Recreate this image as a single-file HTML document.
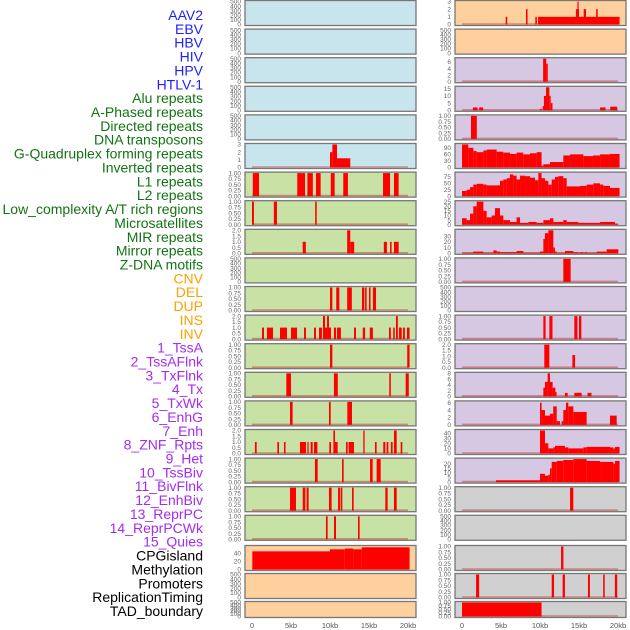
<!DOCTYPE html>
<html><head><meta charset="utf-8"><style>
html,body{margin:0;padding:0;background:#fff;}
svg{display:block;font-family:"Liberation Sans",sans-serif;}
</style></head><body>
<svg id="chart" width="630" height="630" viewBox="0 0 630 630" xmlns="http://www.w3.org/2000/svg"></svg>
<script>
// ---- labels ----
const labelTexts = ["AAV2","EBV","HBV","HIV","HPV","HTLV-1","Alu repeats","A-Phased repeats","Directed repeats","DNA transposons","G-Quadruplex forming repeats","Inverted repeats","L1 repeats","L2 repeats","Low_complexity A/T rich regions","Microsatellites","MIR repeats","Mirror repeats","Z-DNA motifs","CNV","DEL","DUP","INS","INV","1_TssA","2_TssAFlnk","3_TxFlnk","4_Tx","5_TxWk","6_EnhG","7_Enh","8_ZNF_Rpts","9_Het","10_TssBiv","11_BivFlnk","12_EnhBiv","13_ReprPC","14_ReprPCWk","15_Quies","CPGisland","Methylation","Promoters","ReplicationTiming","TAD_boundary"];
const labelGroupSizes = [6,13,5,15,5];
const labelColors = ["#1f1fff","#137313","#ffa000","#a32cf0","#000000"];
const xTicks = [0,5,10,15,20];
const xTickLabels = ["0","5kb","10kb","15kb","20kb"];

// ---- bar data: [startKb, endKb, value] ----
const L6 = [[10.0,10.3,2],[10.3,10.9,3],[10.9,12.6,1.2]];
const L7 = [[0.1,0.9,1],[5.8,6.8,1],[7.1,7.8,1],[8.2,8.8,1],[10.1,10.6,1],[11.7,12.3,1],[16.8,17.7,1],[18.2,18.8,1]];
const L8 = [[0,0.25,1],[2.8,3.2,1],[8.1,8.3,1]];
const L9 = [[6.5,6.9,1],[12.2,12.6,2],[12.6,13.1,1],[16.9,17.3,1],[17.7,17.9,1],[18.2,18.8,1]];
const L11 = [[10.0,10.3,1],[10.8,11.2,1],[12.2,12.8,1],[14.1,14.4,1],[14.5,14.7,1],[15.0,15.2,1],[15.5,15.9,1]];
const L12 = [[1.28,1.54,1],[1.92,2.69,1],[3.59,4.49,1],[5.0,5.77,1],[6.67,6.92,1],[7.95,8.2,1],[8.59,8.97,1],[9.1,9.36,2],[9.36,9.62,1],[9.62,9.87,2],[9.87,10.13,1],[10.5,10.77,1],[10.9,11.4,1],[13.08,13.33,1],[14.2,14.5,1],[15.1,15.5,1],[17.56,17.8,1],[18.1,18.3,1],[18.46,18.7,2],[18.85,19.2,1],[19.36,19.6,1],[19.87,20.2,1]];
const L13 = [[10.0,10.3,1],[19.9,20.2,1]];
const L14 = [[4.4,5.0,1],[10.5,11.0,1],[17.6,17.8,1],[19.7,20.1,1]];
const L15 = [[4.87,5.21,1],[9.87,10.09,1],[12.22,12.82,1]];
const L16 = [[0.38,0.6,1],[3.25,3.46,1],[4.1,4.3,1],[6.15,6.92,1],[7.1,7.26,1],[7.52,7.78,1],[7.95,8.38,1],[9.91,10.13,1],[10.43,10.64,2],[10.64,10.98,1],[12.05,12.26,1],[12.39,13.08,1],[14.27,14.44,2],[15.77,15.98,1],[16.83,17.09,1],[17.26,17.48,1],[17.8,18.03,1],[18.2,18.55,2],[19.06,19.27,1]];
const L17 = [[8.07,8.42,1],[11.54,11.75,1],[15.13,15.47,1],[15.98,16.5,1]];
const L18 = [[4.87,5.64,1],[6.5,6.84,1],[7.0,7.26,1],[9.87,10.21,1],[11.03,11.28,1],[11.37,11.58,1],[12.82,13.03,1],[17.09,17.39,1],[18.2,18.55,1]];
const L19 = [[9.48,9.7,1],[10.51,10.77,1],[13.59,13.8,1]];
const L20 = [[0.04,10.0,45],[10.0,11.9,50],[11.9,13.0,52],[13.0,14.06,50],[14.06,20.2,55]];
const R1 = [[5.6,5.8,1],[8.2,8.4,2],[9.4,9.6,1],[9.75,20.2,1],[14.6,15.0,2],[14.8,14.9,3],[15.6,15.9,2],[17.2,17.4,2]];
const R3 = [[10.4,10.8,7],[10.8,11.0,5.5]];
const R4 = [[1.4,2.0,2],[2.2,2.7,2],[10.0,10.2,1],[10.35,10.5,3],[10.5,10.77,10],[10.77,11.2,16],[11.2,11.37,10],[11.37,11.6,5],[17.7,18.4,2],[19.0,19.9,2.5]];
const R5 = [[1.15,1.9,1]];
const R10 = [[12.99,13.93,1]];
const R12 = [[10.43,10.72,1],[11.2,11.6,1],[14.4,14.8,1],[15.0,15.3,1]];
const R13 = [[10.55,11.2,2],[14.15,14.5,1.1]];
const R14 = [[10.43,10.64,3],[10.64,10.98,5],[10.98,11.28,8],[11.28,11.62,5],[11.62,11.97,3],[11.97,12.05,1.5],[13.2,13.55,1.2],[14.4,15.34,1.2],[16.1,16.6,1.2]];
const R15 = [[10.0,10.2,6],[10.2,10.64,4],[10.64,11.28,2.5],[11.28,11.7,3],[11.7,12.14,5],[12.14,12.56,1],[12.78,12.99,1],[12.99,13.33,4],[13.33,13.63,6],[13.63,14.27,5],[14.27,15.98,3.5],[18.97,19.83,2.5]];
const R18 = [[13.85,14.27,1]];
const R20 = [[12.7,13.0,1]];
const R21 = [[1.8,2.2,1],[11.5,11.8,1],[12.9,13.2,1],[16.15,16.4,1],[18.1,18.3,1],[19.6,19.9,1]];
const R22 = [[0,10.2,1]];

// ---- step profiles: edges (kb) and values ----
const R6edges = [0,0.81,1.45,1.88,2.74,3.16,4.44,5.3,6.15,7.0,7.86,8.72,9.57,10.2,10.43,11.28,12.99,13.85,15.56,16.8,17.7,18.97,20.2];
const R6vals = [105,90,75,70,78,82,72,68,62,68,60,65,70,8,15,25,55,60,52,55,60,62];
const R7edges = [0,0.6,1.03,1.45,1.88,2.74,3.16,4.87,5.3,5.73,6.15,6.58,7.0,7.44,8.08,8.72,9.36,9.79,10.2,10.64,11.07,11.5,11.92,12.35,12.99,13.42,15.13,15.98,16.84,17.7,18.12,18.97,20.2];
const R7vals = [20,25,35,45,48,45,42,60,65,70,85,80,65,80,78,72,62,90,70,60,45,65,75,78,70,38,40,45,50,45,40,32];
const R8edges = [0,0.6,1.03,1.45,1.88,2.74,3.16,3.8,4.23,4.87,5.3,6.15,7.0,7.44,8.5,9.57,10.43,11.28,11.71,12.99,13.42,14.92,17.7,19.62,20.04];
const R8vals = [7,5,12,20,25,15,8,10,18,10,5,3,8,2,3,2,5,7,3,5,3,2,3,1];
const R9edges = [0,1.45,2.74,4.02,4.44,4.87,7.0,7.86,10.0,10.43,10.64,11.07,11.71,11.92,12.14,13.2,14.27,14.92,15.13,15.56,15.77,15.98,17.27,18.55,20.04];
const R9vals = [1,3,1,5,3,2,4,1,3,25,35,40,10,3,1,4,2,1,2,1,2,1,3,7];
const R16edges = [10.0,10.64,11.07,11.71,11.92,13.2,13.63,15.56,15.98,18.97,19.4,19.62,20.2];
const R16vals = [45,20,10,12,15,12,10,12,13,12,10,13];
const R17edges = [4.36,10.0,10.64,11.07,11.28,11.5,12.14,12.99,14.27,15.98,17.7,19.4,19.62,20.2];
const R17vals = [2,9,7,8,15,22,23,24,25,23,22,20,23];

// ---- y tick label sets ----
const T500 = ["0","100","200","300","400","500"];
const T1 = ["0.00","0.25","0.50","0.75","1.00"];
const T2 = ["0.0","0.5","1.0","1.5","2.0"];

function stepToBars(edges, vals){
  const out=[];
  for(let i=0;i<vals.length;i++) out.push([edges[i],edges[i+1],vals[i]]);
  return out;
}

const BLUE="#c8e4ec", GREEN="#c8e1a5", PEACH="#fed09e", PURP="#d6c7e3", GRAY="#d0d0d0";
function tk(vals){return vals;}
const leftPanels = [
 {c:BLUE,max:500,ticks:[0,100,200,300,400,500],tl:T500,bars:null},
 {c:BLUE,max:500,ticks:[0,100,200,300,400,500],tl:T500,bars:null},
 {c:BLUE,max:500,ticks:[0,100,200,300,400,500],tl:T500,bars:null},
 {c:BLUE,max:500,ticks:[0,100,200,300,400,500],tl:T500,bars:null},
 {c:BLUE,max:500,ticks:[0,100,200,300,400,500],tl:T500,bars:null},
 {c:BLUE,max:3,ticks:[0,1,2,3],tl:["0","1","2","3"],bars:L6},
 {c:GREEN,max:1,ticks:[0,.25,.5,.75,1],tl:T1,bars:L7},
 {c:GREEN,max:1,ticks:[0,.25,.5,.75,1],tl:T1,bars:L8},
 {c:GREEN,max:2,ticks:[0,.5,1,1.5,2],tl:T2,bars:L9},
 {c:GREEN,max:500,ticks:[0,100,200,300,400,500],tl:T500,bars:null},
 {c:GREEN,max:1,ticks:[0,.25,.5,.75,1],tl:T1,bars:L11},
 {c:GREEN,max:2,ticks:[0,.5,1,1.5,2],tl:T2,bars:L12},
 {c:GREEN,max:1,ticks:[0,.25,.5,.75,1],tl:T1,bars:L13},
 {c:GREEN,max:1,ticks:[0,.25,.5,.75,1],tl:T1,bars:L14},
 {c:GREEN,max:1,ticks:[0,.25,.5,.75,1],tl:T1,bars:L15},
 {c:GREEN,max:2,ticks:[0,.5,1,1.5,2],tl:T2,bars:L16},
 {c:GREEN,max:1,ticks:[0,.25,.5,.75,1],tl:T1,bars:L17},
 {c:GREEN,max:1,ticks:[0,.25,.5,.75,1],tl:T1,bars:L18},
 {c:GREEN,max:1,ticks:[0,.25,.5,.75,1],tl:T1,bars:L19},
 {c:PEACH,max:57,ticks:[0,20,40],tl:["0","20","40"],bars:L20},
 {c:PEACH,max:500,ticks:[0,100,200,300,400,500],tl:T500,bars:null},
 {c:PEACH,max:500,ticks:[0,100,200,300,400,500],tl:T500,bars:null}
];
const rightPanels = [
 {c:PEACH,max:3,ticks:[0,1,2,3],tl:["0","1","2","3"],bars:R1},
 {c:PEACH,max:500,ticks:[0,100,200,300,400,500],tl:T500,bars:null},
 {c:PURP,max:7,ticks:[0,2,4,6],tl:["0","2","4","6"],bars:R3},
 {c:PURP,max:16,ticks:[0,5,10,15],tl:["0","5","10","15"],bars:R4},
 {c:PURP,max:1,ticks:[0,.25,.5,.75,1],tl:T1,bars:R5},
 {c:PURP,max:105,ticks:[0,30,60,90],tl:["0","30","60","90"],bars:stepToBars(R6edges,R6vals)},
 {c:PURP,max:90,ticks:[0,25,50,75],tl:["0","25","50","75"],bars:stepToBars(R7edges,R7vals)},
 {c:PURP,max:25,ticks:[0,5,10,15,20,25],tl:["0","5","10","15","20","25"],bars:stepToBars(R8edges,R8vals)},
 {c:PURP,max:40,ticks:[0,10,20,30],tl:["0","10","20","30"],bars:stepToBars(R9edges,R9vals)},
 {c:PURP,max:1,ticks:[0,.25,.5,.75,1],tl:T1,bars:R10},
 {c:PURP,max:500,ticks:[0,100,200,300,400,500],tl:T500,bars:null},
 {c:PURP,max:1,ticks:[0,.25,.5,.75,1],tl:T1,bars:R12},
 {c:PURP,max:2,ticks:[0,.5,1,1.5,2],tl:T2,bars:R13},
 {c:PURP,max:8,ticks:[0,2,4,6,8],tl:["0","2","4","6","8"],bars:R14},
 {c:PURP,max:6.2,ticks:[0,2,4,6],tl:["0","2","4","6"],bars:R15},
 {c:PURP,max:45,ticks:[0,10,20,30,40],tl:["0","10","20","30","40"],bars:stepToBars(R16edges,R16vals)},
 {c:PURP,max:25,ticks:[0,5,10,15,20],tl:["0","5","10","15","20"],bars:stepToBars(R17edges,R17vals)},
 {c:GRAY,max:1,ticks:[0,.25,.5,.75,1],tl:T1,bars:R18},
 {c:GRAY,max:500,ticks:[0,100,200,300,400,500],tl:T500,bars:null},
 {c:GRAY,max:1,ticks:[0,.25,.5,.75,1],tl:T1,bars:R20},
 {c:GRAY,max:1,ticks:[0,.25,.5,.75,1],tl:T1,bars:R21},
 {c:GRAY,max:1,ticks:[0,.25,.5,.75,1],tl:T1,bars:R22}
];

const NS="http://www.w3.org/2000/svg";
const svg=document.getElementById('chart');
function mk(tag,attrs,parent){const e=document.createElementNS(NS,tag);for(const k in attrs)e.setAttribute(k,attrs[k]);(parent||svg).appendChild(e);return e;}

// labels
let li=0;
labelGroupSizes.forEach((n,g)=>{
  for(let k=0;k<n;k++){
    const t=mk('text',{x:203,y:20+li*13.86,'text-anchor':'end','font-size':'14',fill:labelColors[g]});
    t.textContent=labelTexts[li];
    
    
    li++;
  }
});

function rowGeom(i){
  if(i<19) return {top:i*28.6+0.5,h:25};
  if(i===19) return {top:545.5,h:25};
  if(i===20) return {top:573.5,h:25};
  return {top:601.5,h:16};
}

function drawColumn(panels,x0,x1,kb0px,col){
  const xs=kb=>kb0px+kb*7.8;
  panels.forEach((p,i)=>{
    const g=mk('g',{});
    
    
    const {top,h}=rowGeom(i);
    mk('rect',{x:x0,y:top,width:x1-x0,height:h,fill:p.c,stroke:'#777','stroke-width':1.3},g);
    const yb=top+h-1, yt=top+1;
    const ys=v=>yb-(v/p.max)*(yb-yt);
    p.ticks.forEach((v,j)=>{
      const t=mk('text',{x:x0-4,y:ys(v)+2.2,'text-anchor':'end','font-size':'6.5',fill:'#666'},g);
      t.textContent=p.tl[j];
      
      
    });
    if(p.bars){
      mk('line',{x1:xs(0),x2:xs(20),y1:yb-0.5,y2:yb-0.5,stroke:'rgba(190,40,40,0.45)','stroke-width':1.6},g);
      p.bars.forEach(b=>{
        const r=mk('rect',{x:xs(b[0]),y:ys(b[2]),width:Math.max(1.2,xs(b[1])-xs(b[0])),height:yb-ys(b[2]),fill:'#ff0000'},g);
        
        
      });
    }
  });
  xTicks.forEach((v,j)=>{
    const t=mk('text',{x:xs(v),y:628,'text-anchor':'middle','font-size':'7.5',fill:'#555'});
    t.textContent=xTickLabels[j];
    
    
  });
}
drawColumn(leftPanels,245,416,252,'left');
drawColumn(rightPanels,455,626,462,'right');
</script>
</body></html>
